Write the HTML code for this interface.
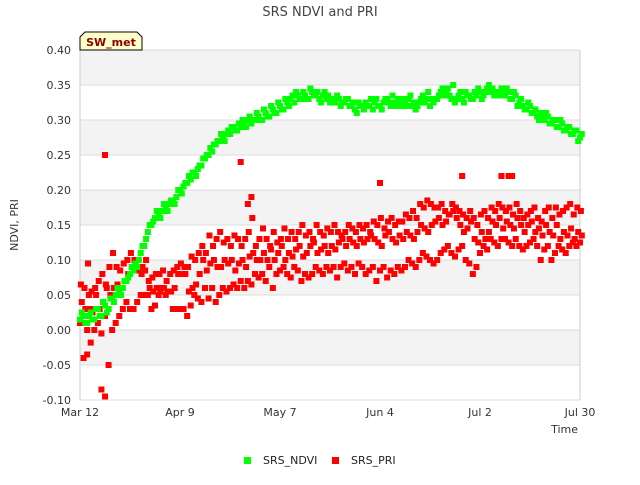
<!DOCTYPE html>
<html><head><meta charset="utf-8"><style>
body{margin:0;background:#fff;font-family:"Liberation Sans",sans-serif}
svg text{font-family:"DejaVu Sans","Liberation Sans",sans-serif}
</style></head><body>
<svg id="c" width="640" height="480" xmlns="http://www.w3.org/2000/svg">
<text x="320" y="16" text-anchor="middle" font-size="13" fill="#444">SRS NDVI and PRI</text>
<g id="bands"></g><g id="grid"></g><g id="ylabels"></g><g id="xlabels"></g><g id="pts"></g>
<text x="18" y="225" font-size="11" fill="#333" text-anchor="middle" transform="rotate(-90 18 225)">NDVI, PRI</text>
<text x="578" y="433" font-size="11" fill="#333" text-anchor="end">Time</text>
<g>
<path d="M80,50 L80,37 L85,32 L137,32 L142,37 L142,50 Z" fill="#ffffcc" stroke="#000" stroke-width="1"/>
<text x="111" y="46" text-anchor="middle" font-size="11" font-weight="bold" fill="#8b0000">SW_met</text></g>
<g><rect x="244" y="457" width="7" height="7" fill="#00ff00"/><text x="263" y="464" font-size="11" fill="#222">SRS_NDVI</text></g>
<g><rect x="332" y="457" width="7" height="7" fill="#ff0000"/><text x="351" y="464" font-size="11" fill="#222">SRS_PRI</text></g>
</svg>
<script>
const xTicks=["Mar 12","Apr 9","May 7","Jun 4","Jul 2","Jul 30"];
const xTickDays=[0,28,56,84,112,140];
const yTicks=[-0.10,-0.05,0.00,0.05,0.10,0.15,0.20,0.25,0.30,0.35,0.40];
const ndviA=[.015,.02,.01,.025,.015,.03,.02,.035,.03,.045,.05,.055,.06,.07,.08,.085,.09,.11,.12,.14,.15,.16,.165,.17,.175,.18,.185,.19,.20,.205,.21,.215,.225,.23,.235,.245,.25,.255,.265,.27,.275,.28,.28,.29,.285,.29,.295,.30,.295,.30,.305,.30,.31,.305,.315,.31,.32,.315,.325,.33,.325,.335,.33,.335,.33,.34,.335,.33,.335,.33,.325,.33,.335,.32,.325,.33,.32,.315,.325,.32,.325,.32,.315,.33,.32,.325,.33,.32,.325,.33,.32,.325,.33,.32,.315,.325,.335,.33,.32,.325,.33,.34,.335,.345,.33,.325,.335,.33,.34,.335,.33,.335,.34,.335,.345,.34,.335,.34,.345,.335,.34,.33,.335,.325,.32,.315,.32,.31,.305,.31,.30,.305,.295,.30,.29,.295,.285,.29,.28,.285,.275];
const ndviB=[.025,.01,.02,.015,.03,.02,.04,.025,.045,.04,.06,.05,.07,.075,.09,.095,.1,.12,.13,.15,.155,.17,.16,.18,.17,.185,.18,.2,.195,.21,.22,.225,.22,.235,.245,.25,.26,.265,.27,.28,.27,.285,.29,.285,.295,.3,.29,.305,.3,.31,.3,.315,.305,.32,.31,.325,.315,.33,.32,.335,.34,.33,.34,.33,.345,.335,.34,.325,.34,.335,.33,.325,.33,.325,.33,.32,.325,.31,.32,.315,.32,.33,.325,.32,.315,.33,.325,.335,.32,.325,.33,.32,.335,.325,.32,.33,.325,.34,.33,.33,.335,.345,.34,.335,.35,.33,.34,.325,.335,.33,.34,.345,.33,.34,.35,.345,.34,.335,.34,.345,.33,.34,.32,.33,.315,.325,.31,.315,.3,.305,.31,.295,.3,.29,.3,.285,.29,.28,.285,.27,.28];
const priLow=[.01,.02,0,.03,0,.01,-.005,.02,.03,0,.01,.02,.03,.04,.03,.03,.04,.05,.05,.05,.03,.035,.05,.06,.05,.055,.03,.03,.03,.03,.02,.035,.05,.045,.04,.06,.045,.06,.04,.05,.06,.055,.06,.065,.06,.07,.06,.07,.065,.08,.075,.08,.07,.09,.06,.08,.085,.09,.08,.075,.09,.085,.07,.08,.075,.08,.09,.085,.08,.09,.085,.09,.075,.09,.095,.085,.09,.08,.095,.09,.08,.085,.09,.07,.085,.09,.075,.085,.08,.09,.085,.09,.1,.095,.09,.1,.11,.105,.1,.095,.1,.11,.115,.12,.11,.105,.115,.12,.1,.095,.08,.09,.11,.12,.115,.13,.125,.12,.13,.13,.125,.12,.13,.12,.115,.12,.125,.13,.12,.1,.115,.12,.1,.11,.12,.115,.11,.12,.125,.12,.125];
const priMid=[.04,.03,.05,.025,.05,.03,.04,.06,.05,.06,.065,.06,.07,.08,.09,.095,.085,.09,.1,.06,.055,.06,.055,.06,.055,.055,.06,.08,.08,.08,.055,.06,.065,.08,.1,.085,.095,.1,.09,.09,.1,.095,.1,.085,.095,.1,.09,.105,.11,.1,.1,.11,.1,.115,.1,.11,.12,.1,.11,.105,.115,.12,.105,.11,.12,.125,.11,.115,.12,.11,.12,.115,.125,.13,.12,.13,.125,.12,.13,.125,.13,.135,.13,.125,.12,.135,.14,.13,.125,.135,.13,.14,.135,.13,.14,.15,.145,.14,.15,.155,.16,.15,.155,.165,.17,.16,.15,.14,.145,.155,.13,.125,.14,.13,.14,.155,.15,.16,.145,.155,.15,.145,.16,.15,.14,.15,.155,.14,.145,.135,.15,.14,.135,.15,.13,.14,.135,.145,.13,.14,.135];
const priHigh=[.065,.06,.095,.055,.06,.07,.08,.065,.09,.11,.09,.085,.095,.1,.11,.1,.09,.08,.085,.07,.075,.08,.08,.085,.07,.08,.085,.09,.095,.09,.09,.105,.1,.11,.12,.11,.135,.12,.13,.14,.125,.13,.12,.135,.13,.12,.13,.14,.16,.12,.13,.145,.13,.12,.14,.125,.13,.145,.13,.14,.13,.14,.15,.135,.14,.13,.15,.14,.135,.145,.14,.15,.14,.135,.14,.15,.145,.14,.15,.145,.15,.14,.155,.15,.16,.145,.155,.16,.15,.155,.155,.165,.16,.17,.16,.18,.175,.185,.18,.175,.175,.18,.17,.165,.18,.175,.17,.165,.16,.17,.16,.15,.165,.17,.16,.175,.17,.18,.175,.17,.175,.165,.18,.17,.16,.165,.17,.175,.16,.155,.17,.175,.16,.175,.165,.17,.175,.18,.165,.175,.17];
const priOutDays=[7,45,6,7,8,2,1,3,107,118,120,121,84,47,48];
const priOutVals=[.25,.24,-.085,-.095,-.05,-.035,-.04,-.018,.22,.22,.22,.22,.21,.18,.19];
const X0=80,X1=580,Y0=400,Y1=50,DAYS=140,VMIN=-0.1,VMAX=0.4;
const sx=d=>X0+(d/DAYS)*(X1-X0);
const sy=v=>Y0-(v-VMIN)/(VMAX-VMIN)*(Y0-Y1);
const NS="http://www.w3.org/2000/svg";
function mk(tag,parent,attrs){const e=document.createElementNS(NS,tag);for(const k in attrs)e.setAttribute(k,attrs[k]);parent.appendChild(e);return e;}
const bands=document.getElementById('bands'),grid=document.getElementById('grid'),yl=document.getElementById('ylabels'),xl=document.getElementById('xlabels'),pts=document.getElementById('pts');
for(let i=0;i<yTicks.length-1;i++){if(i%2===1){const r=mk('rect',bands,{x:X0,y:sy(yTicks[i+1]),width:X1-X0,height:sy(yTicks[i])-sy(yTicks[i+1]),fill:'#f3f3f3'});

}}
yTicks.forEach(v=>{const l=mk('line',grid,{x1:X0,x2:X1,y1:sy(v),y2:sy(v),stroke:'#dcdcdc','stroke-width':1});


const t=mk('text',yl,{x:X0-9,y:sy(v)+4,'text-anchor':'end','font-size':11,fill:'#333'});t.textContent=v.toFixed(2);

});
const ax=mk('line',grid,{x1:X0,x2:X0,y1:Y1,y2:Y0,stroke:'#ccc'});


const ax2=mk('line',grid,{x1:X1,x2:X1,y1:Y1,y2:Y0,stroke:'#ccc'});


xTicks.forEach((s,i)=>{const t=mk('text',xl,{x:sx(xTickDays[i]),y:Y0+16,'text-anchor':'middle','font-size':11,fill:'#333'});t.textContent=s;

});
function pt(d,v,c,name){const r=mk('rect',pts,{x:sx(d)-3,y:sy(v)-3,width:6,height:6,fill:c});

}
priLow.forEach((v,i)=>pt(i,v,'#ff0000','pri-point'));
priMid.forEach((v,i)=>pt(i+0.5,v,'#ff0000','pri-point'));
priHigh.forEach((v,i)=>pt(i+0.25,v,'#ff0000','pri-point'));
priOutVals.forEach((v,i)=>pt(priOutDays[i],v,'#ff0000','pri-point'));
ndviA.forEach((v,i)=>pt(i,v,'#00ff00','ndvi-point'));
ndviB.forEach((v,i)=>pt(i+0.5,v,'#00ff00','ndvi-point'));
</script>
</body></html>
